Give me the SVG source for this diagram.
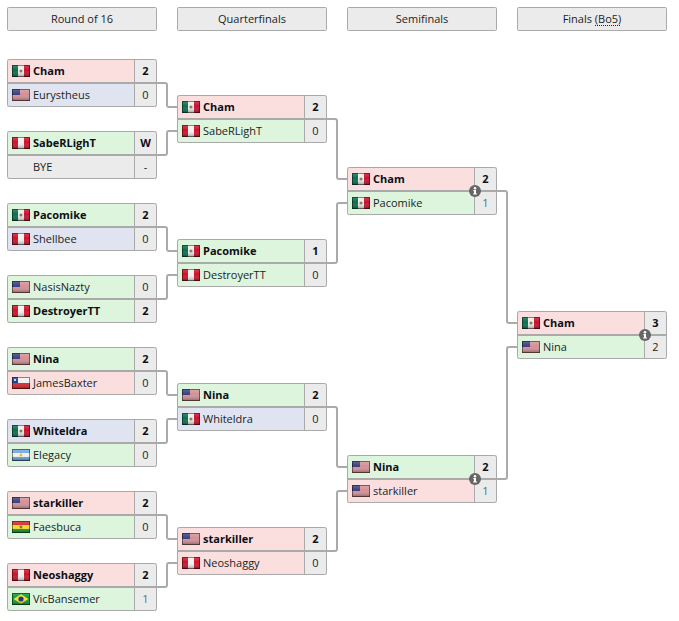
<svg xmlns="http://www.w3.org/2000/svg" width="679" height="621" viewBox="0 0 679 621">
<style>
text{font-family:"Open Sans","DejaVu Sans",sans-serif;font-size:11px;fill:#1a1e24}
.b{font-weight:700;fill:#0c0f14}
.s{text-anchor:middle}
.one{fill:#3f7396}
.h{text-anchor:middle;font-size:11px}
.hd{fill:#ebebeb;stroke:#aaa;stroke-width:1}
.o{fill:none;stroke:#aaa;stroke-width:1}
.d{fill:none;stroke:#aaa;stroke-width:2}
.v{fill:none;stroke:#aaa;stroke-width:1}
.p{fill:#fbdfdf}.g{fill:#ddf4dd}.l{fill:#e0e4f0}.n{fill:#ebebeb}
.c{fill:none;stroke:#aaa;stroke-width:2}
</style>
<defs>
<linearGradient id="gl" x1="0" y1="0" x2="0" y2="1"><stop offset="0" stop-color="#fff" stop-opacity=".2"/><stop offset=".45" stop-color="#fff" stop-opacity="0"/><stop offset="1" stop-color="#000" stop-opacity=".38"/></linearGradient>
<symbol id="gloss" width="18" height="12"><rect width="18" height="12" fill="url(#gl)"/><rect x=".5" y=".5" width="17" height="11" fill="none" stroke="#000" stroke-opacity=".45"/></symbol>
<symbol id="mx" width="18" height="12"><rect width="6" height="12" fill="#0a6f4e"/><rect x="6" width="6" height="12" fill="#ececec"/><rect x="12" width="6" height="12" fill="#c8102e"/><circle cx="9" cy="6" r="1.6" fill="#8a7a4a"/><use href="#gloss"/></symbol>
<symbol id="us" width="18" height="12"><rect width="18" height="12" fill="#eee6e6"/><path d="M0 1h18M0 3h18M0 5h18M0 7h18M0 9h18M0 11h18" stroke="#b83a48" stroke-width="1"/><rect width="8" height="6" fill="#3c4080"/><use href="#gloss"/></symbol>
<symbol id="pe" width="18" height="12"><rect width="18" height="12" fill="#d0102a"/><rect x="6" width="6" height="12" fill="#f0f0f0"/><use href="#gloss"/></symbol>
<symbol id="cl" width="18" height="12"><rect width="18" height="6" fill="#f0f0f0"/><rect y="6" width="18" height="6" fill="#d8262c"/><rect width="6" height="6" fill="#1a3f9a"/><circle cx="3" cy="3" r="1" fill="#fff"/><use href="#gloss"/></symbol>
<symbol id="ar" width="18" height="12"><rect width="18" height="12" fill="#6fa8dc"/><rect y="4" width="18" height="4" fill="#f2f2f2"/><circle cx="9" cy="6" r="1.4" fill="#e0b840"/><use href="#gloss"/></symbol>
<symbol id="bo" width="18" height="12"><rect width="18" height="4" fill="#d8262c"/><rect y="4" width="18" height="4" fill="#f5dc20"/><rect y="8" width="18" height="4" fill="#0a9a3a"/><circle cx="9" cy="6" r="1.4" fill="#8a6a30"/><use href="#gloss"/></symbol>
<symbol id="br" width="18" height="12"><rect width="18" height="12" fill="#0a9a3a"/><path d="M9 1.200L16.500 6L9 10.800L1.500 6Z" fill="#f8e020"/><circle cx="9" cy="6" r="2.600" fill="#1a2f80"/><use href="#gloss"/></symbol>
<g id="info"><circle r="6" fill="#666"/><path d="M-1.600-.9H1V2.400H1.900V3.600H-1.900V2.400H-1V.3H-1.600Z" fill="#fff"/><circle cx="0" cy="-2.700" r="1.300" fill="#fff"/></g>
<g id="frame"><path class="d" d="M0 24H149"/><path class="v" d="M127.500 0.500V47.500"/><rect class="o" x="0.500" y="0.500" width="149" height="47" rx="2"/></g>
</defs>

<g id="headers">
<g id="h1"><rect class="hd" x="7.500" y="7.500" width="149" height="23" rx="1"/><text class="h" x="82" y="23">Round of 16</text></g>
<g id="h2"><rect class="hd" x="177.500" y="7.500" width="149" height="23" rx="1"/><text class="h" x="252" y="23">Quarterfinals</text></g>
<g id="h3"><rect class="hd" x="347.500" y="7.500" width="149" height="23" rx="1"/><text class="h" x="422" y="23">Semifinals</text></g>
<g id="h4"><rect class="hd" x="517.500" y="7.500" width="149" height="23" rx="1"/><text class="h" x="592" y="23">Finals (Bo5)</text><path d="M595 25.500H621" stroke="#212529" stroke-width="1" stroke-dasharray="1 1" fill="none"/></g>
</g>

<g id="connectors">
<path class="c" d="M156 83H165Q167 83 167 85V105Q167 107 169 107H178"/>
<path class="c" d="M156 155H165Q167 155 167 153V133Q167 131 169 131H178"/>
<path class="c" d="M156 227H165Q167 227 167 229V249Q167 251 169 251H178"/>
<path class="c" d="M156 299H165Q167 299 167 297V277Q167 275 169 275H178"/>
<path class="c" d="M156 371H165Q167 371 167 373V393Q167 395 169 395H178"/>
<path class="c" d="M156 443H165Q167 443 167 441V421Q167 419 169 419H178"/>
<path class="c" d="M156 515H165Q167 515 167 517V537Q167 539 169 539H178"/>
<path class="c" d="M156 587H165Q167 587 167 585V565Q167 563 169 563H178"/>
<path class="c" d="M326 119H335Q337 119 337 121V177Q337 179 339 179H348"/>
<path class="c" d="M326 263H335Q337 263 337 261V205Q337 203 339 203H348"/>
<path class="c" d="M326 407H335Q337 407 337 409V465Q337 467 339 467H348"/>
<path class="c" d="M326 551H335Q337 551 337 549V493Q337 491 339 491H348"/>
<path class="c" d="M496 191H505Q507 191 507 193V321Q507 323 509 323H518"/>
<path class="c" d="M496 479H505Q507 479 507 477V349Q507 347 509 347H518"/>
</g>

<g id="m1" transform="translate(7,59)"><rect class="p" width="128" height="24"/><rect class="l" y="24" width="128" height="24"/><rect class="n" x="128" width="22" height="48"/><use href="#mx" x="5" y="6"/><use href="#us" x="5" y="30"/><text class="b" x="26" y="16">Cham</text><text x="26" y="40">Eurystheus</text><text class="b s" x="138.500" y="16">2</text><text class="s" x="138.500" y="40">0</text><use href="#frame"/></g>
<g id="m2" transform="translate(7,131)"><rect class="g" width="128" height="24"/><rect class="n" y="24" width="128" height="24"/><rect class="n" x="128" width="22" height="48"/><use href="#pe" x="5" y="6"/><text class="b" x="26" y="16">SabeRLighT</text><text x="26" y="40">BYE</text><text class="b s" x="138.500" y="16">W</text><text class="s" x="138.500" y="40">-</text><use href="#frame"/></g>
<g id="m3" transform="translate(7,203)"><rect class="g" width="128" height="24"/><rect class="l" y="24" width="128" height="24"/><rect class="n" x="128" width="22" height="48"/><use href="#mx" x="5" y="6"/><use href="#pe" x="5" y="30"/><text class="b" x="26" y="16">Pacomike</text><text x="26" y="40">Shellbee</text><text class="b s" x="138.500" y="16">2</text><text class="s" x="138.500" y="40">0</text><use href="#frame"/></g>
<g id="m4" transform="translate(7,275)"><rect class="g" width="128" height="24"/><rect class="g" y="24" width="128" height="24"/><rect class="n" x="128" width="22" height="48"/><use href="#us" x="5" y="6"/><use href="#pe" x="5" y="30"/><text x="26" y="16">NasisNazty</text><text class="b" x="26" y="40">DestroyerTT</text><text class="s" x="138.500" y="16">0</text><text class="b s" x="138.500" y="40">2</text><use href="#frame"/></g>
<g id="m5" transform="translate(7,347)"><rect class="g" width="128" height="24"/><rect class="p" y="24" width="128" height="24"/><rect class="n" x="128" width="22" height="48"/><use href="#us" x="5" y="6"/><use href="#cl" x="5" y="30"/><text class="b" x="26" y="16">Nina</text><text x="26" y="40">JamesBaxter</text><text class="b s" x="138.500" y="16">2</text><text class="s" x="138.500" y="40">0</text><use href="#frame"/></g>
<g id="m6" transform="translate(7,419)"><rect class="l" width="128" height="24"/><rect class="g" y="24" width="128" height="24"/><rect class="n" x="128" width="22" height="48"/><use href="#mx" x="5" y="6"/><use href="#ar" x="5" y="30"/><text class="b" x="26" y="16">Whiteldra</text><text x="26" y="40">Elegacy</text><text class="b s" x="138.500" y="16">2</text><text class="s" x="138.500" y="40">0</text><use href="#frame"/></g>
<g id="m7" transform="translate(7,491)"><rect class="p" width="128" height="24"/><rect class="g" y="24" width="128" height="24"/><rect class="n" x="128" width="22" height="48"/><use href="#us" x="5" y="6"/><use href="#bo" x="5" y="30"/><text class="b" x="26" y="16">starkiller</text><text x="26" y="40">Faesbuca</text><text class="b s" x="138.500" y="16">2</text><text class="s" x="138.500" y="40">0</text><use href="#frame"/></g>
<g id="m8" transform="translate(7,563)"><rect class="p" width="128" height="24"/><rect class="g" y="24" width="128" height="24"/><rect class="n" x="128" width="22" height="48"/><use href="#pe" x="5" y="6"/><use href="#br" x="5" y="30"/><text class="b" x="26" y="16">Neoshaggy</text><text x="26" y="40">VicBansemer</text><text class="b s" x="138.500" y="16">2</text><text class="s one" x="138.500" y="40">1</text><use href="#frame"/></g>

<g id="q1" transform="translate(177,95)"><rect class="p" width="128" height="24"/><rect class="g" y="24" width="128" height="24"/><rect class="n" x="128" width="22" height="48"/><use href="#mx" x="5" y="6"/><use href="#pe" x="5" y="30"/><text class="b" x="26" y="16">Cham</text><text x="26" y="40">SabeRLighT</text><text class="b s" x="138.500" y="16">2</text><text class="s" x="138.500" y="40">0</text><use href="#frame"/></g>
<g id="q2" transform="translate(177,239)"><rect class="g" width="128" height="24"/><rect class="g" y="24" width="128" height="24"/><rect class="n" x="128" width="22" height="48"/><use href="#mx" x="5" y="6"/><use href="#pe" x="5" y="30"/><text class="b" x="26" y="16">Pacomike</text><text x="26" y="40">DestroyerTT</text><text class="b s" x="138.500" y="16">1</text><text class="s" x="138.500" y="40">0</text><use href="#frame"/></g>
<g id="q3" transform="translate(177,383)"><rect class="g" width="128" height="24"/><rect class="l" y="24" width="128" height="24"/><rect class="n" x="128" width="22" height="48"/><use href="#us" x="5" y="6"/><use href="#mx" x="5" y="30"/><text class="b" x="26" y="16">Nina</text><text x="26" y="40">Whiteldra</text><text class="b s" x="138.500" y="16">2</text><text class="s" x="138.500" y="40">0</text><use href="#frame"/></g>
<g id="q4" transform="translate(177,527)"><rect class="p" width="128" height="24"/><rect class="p" y="24" width="128" height="24"/><rect class="n" x="128" width="22" height="48"/><use href="#us" x="5" y="6"/><use href="#pe" x="5" y="30"/><text class="b" x="26" y="16">starkiller</text><text x="26" y="40">Neoshaggy</text><text class="b s" x="138.500" y="16">2</text><text class="s" x="138.500" y="40">0</text><use href="#frame"/></g>

<g id="s1" transform="translate(347,167)"><rect class="p" width="128" height="24"/><rect class="g" y="24" width="128" height="24"/><rect class="n" x="128" width="22" height="48"/><use href="#mx" x="5" y="6"/><use href="#mx" x="5" y="30"/><text class="b" x="26" y="16">Cham</text><text x="26" y="40">Pacomike</text><text class="b s" x="138.500" y="16">2</text><text class="s one" x="138.500" y="40">1</text><use href="#frame"/><use href="#info" x="128" y="24"/></g>
<g id="s2" transform="translate(347,455)"><rect class="g" width="128" height="24"/><rect class="p" y="24" width="128" height="24"/><rect class="n" x="128" width="22" height="48"/><use href="#us" x="5" y="6"/><use href="#us" x="5" y="30"/><text class="b" x="26" y="16">Nina</text><text x="26" y="40">starkiller</text><text class="b s" x="138.500" y="16">2</text><text class="s one" x="138.500" y="40">1</text><use href="#frame"/><use href="#info" x="128" y="24"/></g>

<g id="f1" transform="translate(517,311)"><rect class="p" width="128" height="24"/><rect class="g" y="24" width="128" height="24"/><rect class="n" x="128" width="22" height="48"/><use href="#mx" x="5" y="6"/><use href="#us" x="5" y="30"/><text class="b" x="26" y="16">Cham</text><text x="26" y="40">Nina</text><text class="b s" x="138.500" y="16">3</text><text class="s" x="138.500" y="40">2</text><use href="#frame"/><use href="#info" x="128" y="24"/></g>
</svg>
